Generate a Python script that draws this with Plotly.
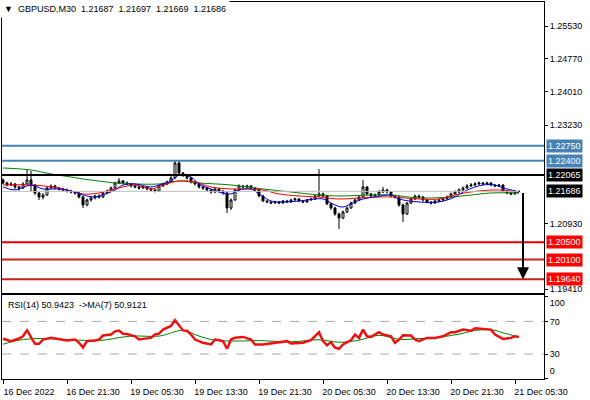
"""GBPUSD M30 chart with levels and RSI, MT4 style."""

import plotly.graph_objects as go

# ---- data (prices in points, 1e-5) ----
CLOSE = [
    121882, 121835, 121859, 121789, 121765, 121859, 121952, 121835, 121649, 121556,
    121602, 121765, 121812, 121765, 121742, 121719, 121696, 121672, 121649, 121556,
    121370, 121486, 121533, 121579, 121556, 121649, 121696, 121765, 121882, 121928,
    121882, 121859, 121812, 121789, 121765, 121789, 121742, 121719, 121696, 121812,
    121859, 121905, 121998, 122347, 122114, 122068, 121998, 121905, 121859, 121789,
    121765, 121719, 121672, 121742, 121696, 121649, 121300, 121486, 121719, 121812,
    121789, 121812, 121765, 121719, 121579, 121463, 121440, 121416, 121440, 121416,
    121463, 121440, 121486, 121509, 121463, 121440, 121486, 121509, 121579, 121626,
    121579, 121393, 121300, 121160, 121067, 121207, 121300, 121416, 121486, 121556,
    121789, 121626, 121579, 121602, 121672, 121719, 121672, 121579, 121556, 121370,
    121160, 121416, 121509, 121579, 121556, 121486, 121440, 121416, 121463, 121486,
    121509, 121556, 121626, 121672, 121719, 121765, 121812, 121835, 121859, 121882,
    121859, 121882, 121835, 121812, 121835, 121696, 121649, 121626, 121687, 121686,
]
OPEN = [121952] + CLOSE[:-1]
HIGH = [
    121990, 121910, 121900, 121880, 121820, 121900, 122184, 122161, 121860, 121680,
    121650, 121800, 121850, 121840, 121790, 121770, 121750, 121720, 121700, 121680,
    121580, 121520, 121570, 121610, 121620, 121680, 121730, 121800, 121910, 121998,
    121950, 121920, 121880, 121840, 121820, 121820, 121810, 121770, 121740, 121840,
    121890, 121940, 122040, 122417, 122417, 122140, 122090, 122020, 121930, 121880,
    121810, 121790, 121740, 121770, 121760, 121720, 121690, 121520, 121760, 121850,
    121830, 121840, 121830, 121780, 121740, 121600, 121480, 121460, 121470, 121460,
    121490, 121490, 121510, 121540, 121530, 121480, 121510, 121540, 121610, 122208,
    121660, 121600, 121420, 121330, 121190, 121240, 121330, 121450, 121510, 121590,
    121952, 121810, 121650, 121640, 121720, 121790, 121750, 121700, 121610, 121580,
    121400, 121440, 121540, 121610, 121610, 121580, 121510, 121460, 121490, 121510,
    121540, 121590, 121660, 121710, 121760, 121800, 121860, 121880, 121900, 121910,
    121900, 121910, 121900, 121850, 121860, 121850, 121720, 121680, 121720, 121697,
]
LOW = [
    121850, 121800, 121810, 121740, 121700, 121740, 121830, 121672, 121600, 121486,
    121500, 121580, 121740, 121730, 121710, 121690, 121660, 121640, 121610, 121520,
    121300, 121340, 121450, 121500, 121520, 121530, 121620, 121670, 121740, 121860,
    121850, 121830, 121780, 121760, 121730, 121740, 121710, 121690, 121660, 121680,
    121790, 121830, 121880, 121980, 122090, 122020, 121960, 121870, 121820, 121750,
    121720, 121680, 121630, 121650, 121660, 121610, 121184, 121253, 121470, 121700,
    121760, 121770, 121740, 121690, 121550, 121440, 121410, 121390, 121400, 121390,
    121400, 121420, 121420, 121470, 121440, 121410, 121420, 121470, 121490, 121560,
    121540, 121370, 121260, 121120, 120811, 121040, 121180, 121280, 121390, 121460,
    121530, 121600, 121540, 121560, 121580, 121650, 121640, 121550, 121520, 121330,
    120974, 121140, 121390, 121490, 121520, 121450, 121410, 121380, 121400, 121440,
    121460, 121490, 121530, 121600, 121650, 121700, 121740, 121790, 121810, 121840,
    121830, 121840, 121810, 121790, 121790, 121670, 121620, 121600, 121610, 121669,
]
BARS = list(range(len(CLOSE)))

# moving averages on price (bar index, points)
MA_FAST_BAR = [0, 3, 7, 10, 14, 18, 20, 23, 25, 28, 30, 33, 37, 39, 42, 44, 47, 49, 52, 54,
               57, 59, 62, 64, 67, 70, 74, 78, 80, 83, 85, 88, 90, 93, 97, 99, 104, 109, 113,
               115, 118, 120, 123, 125, 128, 129]
MA_FAST = [121789, 121719, 121835, 121742, 121742, 121672, 121602, 121556, 121602, 121719,
           121835, 121859, 121789, 121835, 121928, 122068, 122021, 121859, 121742, 121672,
           121626, 121719, 121742, 121626, 121463, 121440, 121463, 121509, 121509, 121370,
           121323, 121440, 121509, 121556, 121602, 121509, 121440, 121440, 121556, 121672,
           121789, 121835, 121835, 121765, 121696, 121649]
MA_MID_BAR = [0, 7, 14, 20, 24, 28, 33, 37, 40, 44, 48, 52, 57, 62, 65, 69, 74, 79, 84, 89,
              94, 97, 104, 109, 114, 119, 124, 129]
MA_MID = [121835, 121835, 121765, 121626, 121649, 121742, 121835, 121742, 121835, 121928,
          121905, 121789, 121742, 121742, 121719, 121626, 121579, 121556, 121509, 121533,
          121556, 121556, 121509, 121509, 121626, 121696, 121719, 121672]
MA_SLOW_BAR = [0, 7, 12, 17, 20, 24, 28, 33, 39, 44, 49, 57, 65, 72, 79, 84, 92, 97, 104,
               112, 117, 122, 129]
MA_SLOW = [122231, 122184, 122091, 122021, 121975, 121928, 121882, 121859, 121859, 121928,
           121882, 121835, 121742, 121672, 121602, 121579, 121602, 121602, 121533, 121556,
           121602, 121649, 121649]

# horizontal levels
RESIST = [1.22750, 1.22400]
PIVOT = [1.22065]
SUPPORT = [1.20500, 1.20100, 1.19640]
PRICE_TICKS = [1.25530, 1.24770, 1.24010, 1.23230, 1.20930, 1.19410]

# RSI(14) and its MA(7)
RSI_BAR = [0, 2, 4, 5, 6, 7, 8, 9, 10, 12, 13, 14, 16, 18, 19, 20, 21, 23, 24, 25, 27, 28,
           29, 30, 31, 33, 34, 35, 37, 38, 39, 40, 42, 43, 44, 45, 46, 47, 48, 49, 50, 52,
           53, 54, 55, 56, 57, 58, 60, 62, 63, 65, 67, 69, 71, 72, 73, 75, 77, 79, 80, 81,
           82, 83, 84, 85, 87, 88, 89, 90, 91, 92, 94, 95, 97, 98, 99, 100, 102, 103, 104,
           106, 108, 110, 112, 113, 115, 117, 118, 120, 122, 123, 124, 125, 127, 128, 129]
RSI = [48.7, 45.8, 49.0, 51.8, 59.0, 50.0, 42.6, 42.6, 47.8, 50.0, 49.0, 48.5, 46.6, 47.8,
       43.8, 38.0, 46.0, 46.6, 47.8, 52.7, 53.9, 57.9, 58.9, 54.9, 54.5, 51.8, 47.8, 48.6,
       49.8, 54.0, 55.0, 60.0, 64.4, 71.7, 66.0, 59.0, 58.6, 54.0, 47.8, 45.8, 43.8, 41.8,
       47.8, 47.0, 45.8, 36.5, 47.8, 50.0, 51.0, 47.8, 41.8, 41.8, 43.0, 43.8, 45.8, 43.0,
       43.0, 43.8, 47.0, 56.7, 45.8, 40.6, 44.6, 37.8, 36.5, 41.8, 47.0, 54.0, 49.8, 60.0,
       51.8, 51.0, 56.7, 54.0, 51.8, 43.8, 47.8, 53.0, 52.7, 47.8, 45.8, 49.8, 49.8, 51.8,
       56.7, 56.7, 60.0, 58.6, 61.7, 60.7, 60.0, 54.0, 51.0, 48.6, 49.8, 51.8, 50.9423]
RSI_MA_BAR = [0, 4, 9, 19, 24, 32, 39, 45, 49, 53, 59, 64, 72, 79, 84, 89, 94, 99, 104, 109,
              114, 119, 123, 125, 129]
RSI_MA = [42.0, 47.0, 49.0, 47.0, 46.5, 52.0, 52.0, 59.0, 52.0, 47.0, 46.0, 46.5, 45.0,
          47.5, 44.5, 47.0, 53.0, 48.0, 49.0, 50.5, 54.5, 59.5, 59.0, 56.0, 50.9121]
RSI_LEVELS = [70, 30]
RSI_TOP = 100
RSI_BOTTOM = 0

X_TICKS = [0, 16, 32, 48, 64, 80, 96, 112, 128]
X_LABELS = ["16 Dec 2022", "16 Dec 21:30", "19 Dec 05:30", "19 Dec 13:30", "19 Dec 21:30",
            "20 Dec 05:30", "20 Dec 13:30", "20 Dec 21:30", "21 Dec 05:30"]


def pts(v):
    return [p / 1e5 for p in v]


FONT = dict(family="Liberation Sans, Arial, sans-serif", size=9, color="black")
X_RANGE = [-0.25, 135.25]
RSI_RANGE = [-0.6, 103]
RSI_DOMAIN = [0, 0.2241]
NB = "\u00a0"

o, h, l, c = pts(OPEN), pts(HIGH), pts(LOW), pts(CLOSE)

fig = go.Figure()
fig.add_trace(go.Candlestick(
    x=BARS, open=o, high=h, low=l, close=c,
    increasing=dict(line=dict(color="black", width=1), fillcolor="white"),
    decreasing=dict(line=dict(color="black", width=1), fillcolor="black"),
    whiskerwidth=0, hoverinfo="skip", showlegend=False,
))
for xs, ys, col in [(MA_SLOW_BAR, MA_SLOW, "#008000"),
                    (MA_MID_BAR, MA_MID, "#FF0000"),
                    (MA_FAST_BAR, MA_FAST, "#0000CD")]:
    fig.add_trace(go.Scatter(x=xs, y=pts(ys), mode="lines", line=dict(color=col, width=1),
                             line_shape="spline", showlegend=False, hoverinfo="skip"))

# bid line
fig.add_trace(go.Scatter(x=[X_RANGE[0], BARS[-1]], y=[c[-1], c[-1]], mode="lines",
                         line=dict(color="#C0C0C0", width=1), showlegend=False,
                         hoverinfo="skip"))

# RSI panel
fig.add_trace(go.Scatter(x=RSI_MA_BAR, y=RSI_MA, mode="lines", xaxis="x2", yaxis="y2",
                         line=dict(color="#008000", width=1), line_shape="spline",
                         showlegend=False, hoverinfo="skip"))
fig.add_trace(go.Scatter(x=RSI_BAR, y=RSI, mode="lines", xaxis="x2", yaxis="y2",
                         line=dict(color="#EE1111", width=2.5), showlegend=False,
                         hoverinfo="skip"))
# empty traces so the overlay axes carrying the 100 / 0 labels get drawn
for ax in ("y3", "y4"):
    fig.add_trace(go.Scatter(x=[], y=[], xaxis="x2", yaxis=ax, showlegend=False,
                             hoverinfo="skip"))
for lv in RSI_LEVELS:
    fig.add_shape(type="line", xref="x2 domain", x0=0, x1=1, yref="y2", y0=lv, y1=lv,
                  line=dict(color="#A8A8A8", width=1, dash="dash"), layer="below")

# levels + right-side price boxes
levels = ([(v, "#4682B4", "#4682B4") for v in RESIST]
          + [(v, "black", "black") for v in PIVOT]
          + [(SUPPORT[0], "#E80000", "#FF0000")]
          + [(v, "#C8201E", "#FF0000") for v in SUPPORT[1:]])
for v, lc, bc in levels:
    fig.add_shape(type="line", xref="x domain", x0=0, x1=1, yref="y", y0=v, y1=v,
                  line=dict(color=lc, width=2))
    fig.add_annotation(xref="paper", x=1, xanchor="left", xshift=2, yref="y", y=v,
                       text=f"{v:.5f}", showarrow=False, bgcolor=bc, borderpad=1,
                       font=dict(FONT, color="white"))
fig.add_annotation(xref="paper", x=1, xanchor="left", xshift=2, yref="y", y=c[-1],
                   text=f"{c[-1]:.5f}", showarrow=False, bgcolor="black", borderpad=1,
                   font=dict(FONT, color="white"))

# target arrow
fig.add_annotation(x=BARS[-1] + 1, y=SUPPORT[-1], ax=BARS[-1] + 1, ay=c[-1],
                   xref="x", yref="y", axref="x", ayref="y", text="", showarrow=True,
                   arrowhead=2, arrowsize=1.2, arrowwidth=2, arrowcolor="black")

# header texts
ohlc = (NB * 2).join(f"{v:.5f}" for v in (o[-1], h[-1], l[-1], c[-1]))
fig.add_annotation(xref="paper", yref="paper", x=0, y=1, xanchor="left", yanchor="top",
                   xshift=-2, yshift=2, showarrow=False, bgcolor="white", borderpad=3,
                   text=f"▼{NB * 2}GBPUSD,M30{NB * 2}{ohlc}", font=FONT)
fig.add_annotation(xref="paper", yref="y2 domain", x=0, y=1, xanchor="left", yanchor="top",
                   xshift=4, yshift=-3, showarrow=False,
                   text=f"RSI(14) {RSI[-1]:.4f}{NB * 2}->MA(7) {RSI_MA[-1]:.4f}",
                   font=FONT)

axis_common = dict(showline=True, mirror=True, linecolor="black", linewidth=1,
                   showgrid=False, zeroline=False, automargin=False)
overlay = dict(overlaying="y2", side="right", anchor="x2", range=RSI_RANGE,
               showgrid=False, zeroline=False, showline=False, ticks="outside",
               ticklen=3, tickcolor="black", automargin=False)
fig.update_layout(
    width=590, height=400,
    margin=dict(l=2, r=46, t=2, b=21, autoexpand=False),
    paper_bgcolor="white", plot_bgcolor="white",
    font=FONT,
    xaxis=dict(domain=[0, 1], range=X_RANGE, anchor="y", showticklabels=False,
               ticks="", rangeslider=dict(visible=False), **axis_common),
    xaxis2=dict(domain=[0, 1], range=X_RANGE, matches="x", anchor="y2",
                tickvals=X_TICKS, ticktext=X_LABELS, ticks="outside", ticklen=4,
                tickcolor="black", ticklabelshift=26, **axis_common),
    yaxis=dict(domain=[0.2268, 1], range=[1.19309, 1.26095], side="right", anchor="x",
               tickvals=PRICE_TICKS, ticktext=[f"{v:.5f}" for v in PRICE_TICKS],
               ticks="outside", ticklen=3, tickcolor="black", **axis_common),
    yaxis2=dict(domain=RSI_DOMAIN, range=RSI_RANGE, side="right", anchor="x2",
                tickvals=RSI_LEVELS, ticks="outside", ticklen=3,
                tickcolor="black", **axis_common),
    # MT4 keeps the 100 / 0 labels inside the window edges
    yaxis3=dict(tickvals=[RSI_TOP], ticklabelshift=6, **overlay),
    yaxis4=dict(tickvals=[RSI_BOTTOM], ticklabelshift=-8, **overlay),
)

fig.write_html("out.html", config={"displayModeBar": False},
               post_script="document.body.style.margin='0';")
